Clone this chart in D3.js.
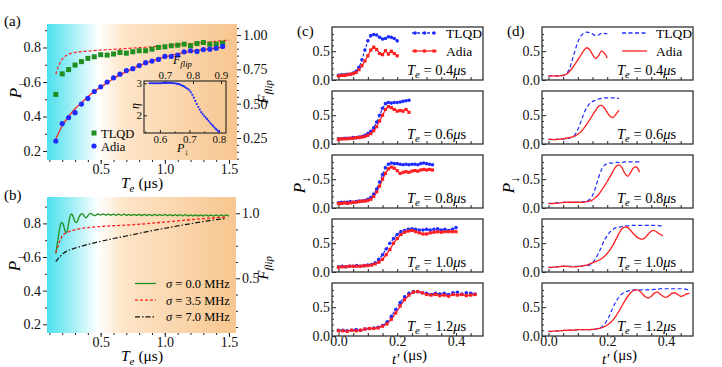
<!DOCTYPE html>
<html>
<head>
<meta charset="utf-8">
<script src="https://cdn.jsdelivr.net/npm/d3@7"></script>
<style>
body { margin: 0; background: #fff; }
svg text { font-family: "Liberation Serif", "Times New Roman", Times, serif; }
</style>
</head>
<body>
<script>
// ---------- panel (a) ----------
var teA = [0.15,0.2,0.25,0.3,0.35,0.4,0.45,0.5,0.55,0.6,0.65,0.7,0.75,0.8,0.85,0.9,0.95,1.0,1.05,1.1,1.15,1.2,1.25,1.3,1.35,1.4,1.45];
var tlqdA = [0.528,0.647,0.672,0.698,0.718,0.737,0.746,0.758,0.756,0.762,0.771,0.767,0.775,0.781,0.781,0.79,0.8,0.804,0.81,0.813,0.819,0.81,0.823,0.829,0.819,0.819,0.825];
var adiaA = [0.258,0.359,0.394,0.422,0.472,0.505,0.545,0.572,0.6,0.624,0.645,0.666,0.677,0.695,0.712,0.721,0.731,0.748,0.748,0.756,0.775,0.781,0.777,0.788,0.79,0.796,0.806];
var fitTlqdT = [0.15,0.17,0.19,0.21,0.23,0.25,0.28,0.31,0.35,0.4,0.5,0.6,0.7,0.8,0.9,1.0,1.1,1.2,1.3,1.4,1.5];
var fitTlqdP = [0.645,0.69,0.72,0.742,0.753,0.761,0.768,0.772,0.776,0.779,0.785,0.789,0.794,0.799,0.804,0.81,0.816,0.822,0.829,0.836,0.843];
var fitAdiaT = [0.15,0.2,0.25,0.3,0.35,0.4,0.45,0.5,0.6,0.7,0.8,0.9,1.0,1.1,1.2,1.3,1.4,1.45];
var fitAdiaP = [0.27,0.345,0.4,0.445,0.48,0.515,0.545,0.57,0.62,0.66,0.695,0.722,0.745,0.763,0.777,0.788,0.797,0.8];
// inset: eta vs P, P from 0.565 in steps of 0.005
var etaStart = 0.565, etaStep = 0.005;
var etaV = [3.0,3.0,3.0,3.0,3.0,3.0,3.0,3.0,3.0,3.01,3.01,3.01,3.01,3.01,3.01,3.01,3.0,3.0,2.99,2.98,2.97,2.95,2.93,2.91,2.88,2.85,2.82,2.78,2.72,2.64,2.55,2.45,2.35,2.26,2.18,2.1,2.04,1.98,1.93,1.88,1.83,1.77,1.72,1.67,1.62,1.57,1.53,1.49];

// ---------- panel (b) ----------
var sig0HeadStart = 0.15, sig0HeadStep = 0.01;
var sig0Head = [0.62,0.67,0.72,0.77,0.8,0.805,0.79,0.76,0.745,0.76,0.8,0.84,0.855,0.85,0.83,0.81,0.805,0.815,0.835,0.85,0.856,0.855,0.845,0.835,0.835,0.845,0.855,0.86,0.857,0.85,0.846,0.848];
var sig0TailStart = 0.48, sig0TailStep = 0.02;
var sig0Tail = [0.856,0.849,0.856,0.849,0.855,0.849,0.855,0.848,0.855,0.848,
  0.855,0.848,0.854,0.848,0.854,0.848,0.854,0.847,0.854,0.847,
  0.853,0.847,0.853,0.847,0.853,0.846,0.853,0.846,0.852,0.846,
  0.852,0.846,0.852,0.845,0.852,0.845,0.851,0.845,0.851,0.845,
  0.851,0.844,0.851,0.844,0.85,0.844,0.85,0.844,0.85,0.843,0.85,0.843];
var sig35T = [0.15,0.17,0.19,0.21,0.23,0.25,0.27,0.3,0.35,0.4,0.5,0.6,0.7,0.8,0.9,1.0,1.1,1.2,1.3,1.4,1.48];
var sig35P = [0.625,0.67,0.71,0.735,0.743,0.75,0.755,0.762,0.77,0.775,0.781,0.786,0.79,0.795,0.801,0.808,0.815,0.822,0.828,0.834,0.838];
var sig7T = [0.15,0.18,0.21,0.25,0.31,0.4,0.5,0.6,0.7,0.8,0.9,1.0,1.1,1.2,1.3,1.4,1.48];
var sig7P = [0.572,0.6,0.622,0.64,0.655,0.675,0.693,0.71,0.725,0.741,0.757,0.771,0.785,0.798,0.811,0.822,0.83];
var sigNames = ["0.0","3.5","7.0"];

// ---------- panel (c): measured, t' from 0 with a fixed step ----------
var teLabels = ["0.4","0.6","0.8","1.0","1.2"];
var cSteps = [0.01,0.01,0.01,0.0125,0.015];
var tlqdC04 = [0.08,0.09,0.09,0.1,0.1,0.12,0.15,0.22,0.35,0.52,0.68,0.77,0.79,0.78,0.74,0.71,0.72,0.75,0.74,0.72,0.68];
var adiaC04 = [0.07,0.08,0.08,0.09,0.1,0.11,0.13,0.18,0.25,0.33,0.42,0.52,0.57,0.53,0.46,0.44,0.51,0.45,0.5,0.46,0.42];
var tlqdC06 = [0.09,0.09,0.1,0.1,0.1,0.11,0.11,0.12,0.13,0.15,0.18,0.22,0.28,0.38,0.5,0.62,0.7,0.72,0.71,0.72,0.72,0.73,0.74,0.75,0.76];
var adiaC06 = [0.08,0.09,0.09,0.09,0.1,0.1,0.11,0.11,0.12,0.13,0.15,0.18,0.23,0.3,0.4,0.5,0.6,0.65,0.63,0.6,0.57,0.58,0.57,0.6,0.55];
var tlqdC08 = [0.09,0.1,0.1,0.1,0.11,0.1,0.11,0.12,0.12,0.13,0.15,0.18,0.24,0.33,0.45,0.58,0.7,0.76,0.78,0.77,0.77,0.76,0.75,0.76,0.75,0.76,0.76,0.75,0.77,0.78,0.77,0.76,0.75];
var adiaC08 = [0.08,0.08,0.09,0.08,0.09,0.1,0.1,0.11,0.12,0.12,0.13,0.15,0.2,0.28,0.38,0.5,0.6,0.68,0.71,0.69,0.65,0.6,0.62,0.63,0.62,0.64,0.65,0.64,0.66,0.67,0.66,0.67,0.66];
var tlqdC10 = [0.09,0.1,0.09,0.1,0.1,0.11,0.1,0.11,0.12,0.13,0.16,0.22,0.3,0.4,0.5,0.58,0.65,0.7,0.72,0.74,0.75,0.74,0.73,0.73,0.74,0.73,0.74,0.75,0.73,0.74,0.72,0.74,0.77];
var adiaC10 = [0.08,0.09,0.09,0.1,0.1,0.1,0.1,0.11,0.11,0.12,0.14,0.17,0.22,0.3,0.39,0.5,0.58,0.65,0.69,0.71,0.72,0.7,0.68,0.66,0.66,0.68,0.69,0.7,0.69,0.7,0.7,0.7,0.7];
var tlqdC12 = [0.1,0.1,0.09,0.1,0.11,0.1,0.12,0.13,0.14,0.15,0.18,0.24,0.34,0.46,0.58,0.68,0.74,0.77,0.77,0.75,0.74,0.72,0.74,0.73,0.74,0.72,0.75,0.76,0.73,0.75,0.74,0.73];
var adiaC12 = [0.09,0.09,0.08,0.1,0.09,0.1,0.12,0.13,0.13,0.14,0.17,0.21,0.29,0.4,0.52,0.63,0.71,0.76,0.77,0.75,0.72,0.71,0.72,0.7,0.71,0.69,0.72,0.71,0.72,0.7,0.71,0.72];

// ---------- panel (d): simulated, t' step 0.01 ----------
var dStep = 0.01;
var tlqdD04 = [0.07,0.07,0.07,0.07,0.075,0.08,0.1,0.18,0.33,0.5,0.66,0.76,0.81,0.83,0.82,0.8,0.77,0.78,0.81,0.81,0.8];
var adiaD04 = [0.07,0.07,0.07,0.07,0.075,0.08,0.1,0.14,0.2,0.27,0.35,0.43,0.51,0.56,0.53,0.44,0.37,0.42,0.5,0.47,0.38];
var tlqdD06 = [0.08,0.08,0.08,0.08,0.08,0.085,0.09,0.1,0.12,0.16,0.25,0.38,0.52,0.63,0.7,0.74,0.76,0.78,0.79,0.8,0.8,0.8,0.8,0.8,0.79];
var adiaD06 = [0.08,0.08,0.075,0.08,0.085,0.09,0.1,0.11,0.12,0.14,0.17,0.21,0.27,0.34,0.42,0.5,0.58,0.65,0.67,0.63,0.55,0.48,0.46,0.52,0.59];
var tlqdD08 = [0.08,0.08,0.09,0.09,0.09,0.1,0.1,0.1,0.1,0.1,0.1,0.1,0.11,0.12,0.15,0.22,0.35,0.52,0.66,0.74,0.77,0.78,0.78,0.79,0.79,0.79,0.8,0.8,0.8,0.8,0.8,0.8];
var adiaD08 = [0.08,0.075,0.08,0.085,0.09,0.095,0.1,0.1,0.1,0.1,0.1,0.1,0.1,0.11,0.12,0.14,0.18,0.23,0.3,0.38,0.46,0.55,0.64,0.72,0.75,0.7,0.6,0.55,0.62,0.7,0.71,0.62];
var tlqdD10 = [0.08,0.08,0.085,0.09,0.095,0.1,0.1,0.1,0.1,0.1,0.1,0.1,0.11,0.11,0.12,0.16,0.23,0.32,0.43,0.55,0.63,0.7,0.74,0.77,0.78,0.79,0.8,0.8,0.81,0.81,0.81,0.81,0.81,0.81,0.81,0.81,0.81,0.81,0.8,0.8];
var adiaD10 = [0.08,0.08,0.085,0.09,0.095,0.1,0.1,0.095,0.09,0.09,0.095,0.1,0.11,0.12,0.14,0.16,0.18,0.2,0.23,0.27,0.32,0.39,0.47,0.57,0.67,0.75,0.78,0.77,0.72,0.66,0.61,0.58,0.57,0.6,0.66,0.71,0.72,0.69,0.65,0.63];
var tlqdD12 = [0.08,0.08,0.085,0.09,0.09,0.095,0.1,0.1,0.1,0.105,0.11,0.11,0.11,0.11,0.11,0.115,0.12,0.13,0.15,0.2,0.28,0.38,0.5,0.6,0.68,0.73,0.76,0.78,0.79,0.8,0.8,0.8,0.8,0.8,0.8,0.8,0.81,0.81,0.82,0.82,0.82,0.82,0.82,0.82,0.82,0.82,0.82,0.81,0.8];
var adiaD12 = [0.08,0.08,0.085,0.09,0.09,0.095,0.1,0.1,0.1,0.105,0.11,0.11,0.11,0.11,0.11,0.115,0.12,0.13,0.14,0.16,0.19,0.23,0.28,0.35,0.43,0.52,0.61,0.69,0.75,0.79,0.8,0.78,0.73,0.68,0.66,0.69,0.74,0.76,0.73,0.69,0.67,0.7,0.74,0.75,0.72,0.69,0.7,0.73,0.74];

var serif = '"Liberation Serif","Times New Roman",Times,serif';
var BLUE = "#1f2bff", RED = "#ff1f1f", GREEN = "#1f8f1f";

var svg = d3.select("body").append("svg")
    .attr("width", 722).attr("height", 367);

// background gradient cyan -> white -> peach
var grad = svg.append("defs").append("linearGradient")
    .attr("id", "bg").attr("x1", "0").attr("x2", "1").attr("y1", "0").attr("y2", "0");
[[0, "#4ce0ee"], [0.1, "#8aebf3"], [0.27, "#ffffff"], [0.4, "#fde5c9"], [1, "#f7c68f"]].forEach(function(s) {
  grad.append("stop").attr("offset", s[0]).attr("stop-color", s[1]);
});

function styleAxis(g, size) {
  g.attr("font-family", serif).attr("font-size", size);
  g.select(".domain").remove();
  g.selectAll("line").attr("stroke", "#222");
  g.selectAll("text").attr("fill", "#111");
  return g;
}
function pairs(xs, ys) { return xs.map(function(v, i) { return [v, ys[i]]; }); }
function stepped(start, step, ys) { return ys.map(function(v, i) { return [start + i * step, v]; }); }

// axis label with subscript
function subLabel(sel, main, sub, rest, size) {
  sel.append("tspan").attr("font-style", "italic").text(main);
  sel.append("tspan").attr("font-size", size * 0.72).attr("dy", size * 0.28).attr("font-style", sub == "↓" ? "normal" : "italic").text(sub);
  if (rest) sel.append("tspan").attr("dy", -size * 0.28).text(rest);
}

// ===== panel (a) =====
var A = {l: 47, r: 237, t: 24, b: 160};
var xA = d3.scaleLinear().domain([0.0815, 1.562]).range([A.l, A.r]);
var yA = d3.scaleLinear().domain([0.148, 0.936]).range([A.b, A.t]);
var yA2 = d3.scaleLinear().domain([0.09, 1.08]).range([A.b, A.t]);

svg.append("rect").attr("x", A.l).attr("y", A.t).attr("width", A.r - A.l).attr("height", A.b - A.t).attr("fill", "url(#bg)");

styleAxis(svg.append("g").attr("transform", "translate(0," + A.b + ")")
  .call(d3.axisBottom(xA).tickValues([0.5, 1.0, 1.5]).tickSize(4).tickPadding(0).tickFormat(d3.format(".1f"))), 14);
styleAxis(svg.append("g").attr("transform", "translate(0," + A.b + ")")
  .call(d3.axisBottom(xA).tickValues(d3.range(0.1, 1.56, 0.1)).tickSize(2).tickFormat("")), 14);
styleAxis(svg.append("g").attr("transform", "translate(" + A.l + ",0)")
  .call(d3.axisLeft(yA).tickValues([0.2, 0.4, 0.6, 0.8]).tickSize(4).tickPadding(2).tickFormat(d3.format(".1f"))), 14);
styleAxis(svg.append("g").attr("transform", "translate(" + A.l + ",0)")
  .call(d3.axisLeft(yA).tickValues([0.3, 0.5, 0.7, 0.9]).tickSize(2).tickFormat("")), 14);
styleAxis(svg.append("g").attr("transform", "translate(" + A.r + ",0)")
  .call(d3.axisRight(yA2).tickValues([0.25, 0.5, 0.75, 1.0]).tickSize(4).tickPadding(2).tickFormat(d3.format(".2f"))), 14);
styleAxis(svg.append("g").attr("transform", "translate(" + A.r + ",0)")
  .call(d3.axisRight(yA2).tickValues([0.1, 0.15, 0.2, 0.3, 0.35, 0.4, 0.45, 0.55, 0.6, 0.65, 0.7, 0.8, 0.85, 0.9, 0.95, 1.05]).tickSize(2).tickFormat("")), 14);

// fitted curves
svg.append("path").datum(pairs(fitTlqdT, fitTlqdP))
  .attr("d", d3.line().x(function(d) { return xA(d[0]); }).y(function(d) { return yA(d[1]); }).curve(d3.curveCatmullRom))
  .attr("fill", "none").attr("stroke", RED).attr("stroke-width", 1.2).attr("stroke-dasharray", "3,2");
svg.append("path").datum(pairs(fitAdiaT, fitAdiaP))
  .attr("d", d3.line().x(function(d) { return xA(d[0]); }).y(function(d) { return yA(d[1]); }).curve(d3.curveCatmullRom))
  .attr("fill", "none").attr("stroke", RED).attr("stroke-width", 1.3);

svg.selectAll(".sqA").data(pairs(teA, tlqdA)).enter().append("rect")
  .attr("x", function(d) { return xA(d[0]) - 2.5; }).attr("y", function(d) { return yA(d[1]) - 2.5; })
  .attr("width", 5).attr("height", 5).attr("fill", GREEN);
svg.selectAll(".dotA").data(pairs(teA, adiaA)).enter().append("circle")
  .attr("cx", function(d) { return xA(d[0]); }).attr("cy", function(d) { return yA(d[1]); })
  .attr("r", 2.6).attr("fill", BLUE);

// legend (a)
svg.append("rect").attr("x", 91.5).attr("y", 130.5).attr("width", 5).attr("height", 5).attr("fill", GREEN);
svg.append("circle").attr("cx", 94).attr("cy", 146).attr("r", 2.6).attr("fill", BLUE);
svg.append("text").attr("x", 101).attr("y", 137.5).attr("font-size", 12.5).text("TLQD");
svg.append("text").attr("x", 101).attr("y", 151).attr("font-size", 12.5).text("Adia");

// inset
var I = {l: 144, r: 226, t: 81, b: 133};
var xI = d3.scaleLinear().domain([0.546, 0.824]).range([I.l, I.r]);
var xI2 = d3.scaleLinear().domain([0.625, 0.918]).range([I.l, I.r]);
var yI = d3.scaleLinear().domain([1.45, 3.07]).range([I.b, I.t]);
svg.append("rect").attr("x", I.l).attr("y", I.t).attr("width", I.r - I.l).attr("height", I.b - I.t)
  .attr("fill", "none").attr("stroke", "#222").attr("stroke-width", 1.1);
styleAxis(svg.append("g").attr("transform", "translate(0," + I.b + ")")
  .call(d3.axisBottom(xI).tickValues([0.6, 0.7, 0.8]).tickSize(-3).tickPadding(2).tickFormat(d3.format(".1f"))), 11);
styleAxis(svg.append("g").attr("transform", "translate(0," + I.b + ")")
  .call(d3.axisBottom(xI).tickValues([0.55, 0.65, 0.75]).tickSize(-1.5).tickFormat("")), 11);
styleAxis(svg.append("g").attr("transform", "translate(0," + I.t + ")")
  .call(d3.axisTop(xI2).tickValues([0.7, 0.8, 0.9]).tickSize(-3).tickPadding(2).tickFormat(d3.format(".1f"))), 11);
styleAxis(svg.append("g").attr("transform", "translate(" + I.l + ",0)")
  .call(d3.axisLeft(yI).tickValues([2, 3]).tickSize(-3).tickPadding(2).tickFormat(d3.format("d"))), 11);
svg.selectAll(".eta").data(stepped(etaStart, etaStep, etaV)).enter().append("circle")
  .attr("cx", function(d) { return xI(d[0]); }).attr("cy", function(d) { return yI(d[1]); })
  .attr("r", 1.1).attr("fill", BLUE);
svg.append("text").attr("transform", "translate(139,106) rotate(-90)").attr("text-anchor", "middle")
  .attr("font-size", 12).attr("font-style", "italic").text("η");
subLabel(svg.append("text").attr("x", 173).attr("y", 64).attr("font-size", 12), "F", "flip", null, 12);
subLabel(svg.append("text").attr("x", 177).attr("y", 152).attr("font-size", 12), "P", "↓", null, 12);

// labels (a)
svg.append("text").attr("x", 4).attr("y", 26).attr("font-size", 15).text("(a)");
subLabel(svg.append("text").attr("x", 142).attr("y", 188).attr("text-anchor", "middle").attr("font-size", 15.5), "T", "e", " (μs)", 15.5);
subLabel(svg.append("text").attr("transform", "translate(21,90) rotate(-90)").attr("text-anchor", "middle").attr("font-size", 17), "P", "↓", null, 17);
subLabel(svg.append("text").attr("transform", "translate(268,92) rotate(-90)").attr("text-anchor", "middle").attr("font-size", 15), "F", "flip", null, 15);

// ===== panel (b) =====
var B = {l: 47, r: 236, t: 197, b: 333};
var xB = d3.scaleLinear().domain([0.0815, 1.555]).range([B.l, B.r]);
var yB = d3.scaleLinear().domain([0.148, 0.957]).range([B.b, B.t]);
var yB2 = d3.scaleLinear().domain([0.079, 1.125]).range([B.b, B.t]);

svg.append("rect").attr("x", B.l).attr("y", B.t).attr("width", B.r - B.l).attr("height", B.b - B.t).attr("fill", "url(#bg)");
styleAxis(svg.append("g").attr("transform", "translate(0," + B.b + ")")
  .call(d3.axisBottom(xB).tickValues([0.5, 1.0, 1.5]).tickSize(4).tickPadding(0).tickFormat(d3.format(".1f"))), 14);
styleAxis(svg.append("g").attr("transform", "translate(0," + B.b + ")")
  .call(d3.axisBottom(xB).tickValues(d3.range(0.1, 1.56, 0.1)).tickSize(2).tickFormat("")), 14);
styleAxis(svg.append("g").attr("transform", "translate(" + B.l + ",0)")
  .call(d3.axisLeft(yB).tickValues([0.2, 0.4, 0.6, 0.8]).tickSize(4).tickPadding(2).tickFormat(d3.format(".1f"))), 14);
styleAxis(svg.append("g").attr("transform", "translate(" + B.l + ",0)")
  .call(d3.axisLeft(yB).tickValues([0.3, 0.5, 0.7, 0.9]).tickSize(2).tickFormat("")), 14);
styleAxis(svg.append("g").attr("transform", "translate(" + B.r + ",0)")
  .call(d3.axisRight(yB2).tickValues([0.5, 1.0]).tickSize(4).tickPadding(2).tickFormat(d3.format(".1f"))), 14);
styleAxis(svg.append("g").attr("transform", "translate(" + B.r + ",0)")
  .call(d3.axisRight(yB2).tickValues([0.125, 0.25, 0.375, 0.625, 0.75, 0.875]).tickSize(2).tickFormat("")), 14);

var lineB = d3.line().x(function(d) { return xB(d[0]); }).y(function(d) { return yB(d[1]); }).curve(d3.curveCatmullRom);
svg.append("path").datum(stepped(sig0HeadStart, sig0HeadStep, sig0Head).concat(stepped(sig0TailStart, sig0TailStep, sig0Tail)))
  .attr("d", lineB).attr("fill", "none").attr("stroke", GREEN).attr("stroke-width", 1.3);
svg.append("path").datum(pairs(sig35T, sig35P))
  .attr("d", lineB).attr("fill", "none").attr("stroke", RED).attr("stroke-width", 1.3).attr("stroke-dasharray", "3,2");
svg.append("path").datum(pairs(sig7T, sig7P))
  .attr("d", lineB).attr("fill", "none").attr("stroke", "#111").attr("stroke-width", 1.2).attr("stroke-dasharray", "5,2,1.5,2");

// legend (b)
var legB = [[GREEN, null], [RED, "3,2"], ["#111", "5,2,1.5,2"]];
legB.forEach(function(s, i) {
  var yy = 283.5 + i * 16.7;
  svg.append("line").attr("x1", 135).attr("x2", 156).attr("y1", yy).attr("y2", yy)
    .attr("stroke", s[0]).attr("stroke-width", 1.3).attr("stroke-dasharray", s[1]);
  var t = svg.append("text").attr("x", 166).attr("y", yy + 4.5).attr("font-size", 12.5);
  t.append("tspan").attr("font-style", "italic").text("σ");
  t.append("tspan").text(" = " + sigNames[i] + " MHz");
});

svg.append("text").attr("x", 4).attr("y", 200).attr("font-size", 15).text("(b)");
subLabel(svg.append("text").attr("x", 142).attr("y", 361).attr("text-anchor", "middle").attr("font-size", 15.5), "T", "e", " (μs)", 15.5);
subLabel(svg.append("text").attr("transform", "translate(20,263) rotate(-90)").attr("text-anchor", "middle").attr("font-size", 17), "P", "↓", null, 17);
subLabel(svg.append("text").attr("transform", "translate(268,268) rotate(-90)").attr("text-anchor", "middle").attr("font-size", 15), "F", "flip", null, 15);

// ===== panels (c) and (d): five stacked sub-plots each =====
var subTops = [27, 91, 155, 219, 283], subH = 53;
var tDomain = [-0.022, 0.492], pDomain = [0, 0.92];

function drawStack(left, right, tl, ad, steps, measured, pLabelX) {
  var x = d3.scaleLinear().domain(tDomain).range([left, right]);
  subTops.forEach(function(top, i) {
    var y = d3.scaleLinear().domain(pDomain).range([top + subH, top]);
    var last = i == subTops.length - 1;
    styleAxis(svg.append("g").attr("transform", "translate(0," + (top + subH) + ")")
      .call(d3.axisBottom(x).tickValues(d3.range(0, 0.46, 0.05)).tickSize(-3).tickPadding(0)
        .tickFormat(function(v) { return last && Math.abs(v * 10 - Math.round(v * 10)) < 1e-6 && Math.round(v * 10) % 2 == 0 ? d3.format(".1f")(v) : ""; })), 14);
    styleAxis(svg.append("g").attr("transform", "translate(" + left + ",0)")
      .call(d3.axisLeft(y).tickValues([0, 0.5]).tickSize(-4).tickPadding(2).tickFormat(d3.format(".1f"))), 14);
    styleAxis(svg.append("g").attr("transform", "translate(" + left + ",0)")
      .call(d3.axisLeft(y).tickValues([0.1, 0.2, 0.3, 0.4, 0.6, 0.7, 0.8]).tickSize(-2).tickFormat("")), 14);
    svg.append("rect").attr("x", left).attr("y", top).attr("width", right - left).attr("height", subH)
      .attr("fill", "none").attr("stroke", "#333").attr("stroke-width", 1.3);

    var line = d3.line().x(function(d) { return x(d[0]); }).y(function(d) { return y(d[1]); });
    if (!measured) line.curve(d3.curveCatmullRom);
    var tlData = stepped(0, steps[i], tl[i]), adData = stepped(0, steps[i], ad[i]);
    svg.append("path").datum(tlData).attr("d", line).attr("fill", "none")
      .attr("stroke", BLUE).attr("stroke-width", 1.2).attr("stroke-dasharray", measured ? "3,2" : "4,2.5");
    svg.append("path").datum(adData).attr("d", line).attr("fill", "none")
      .attr("stroke", RED).attr("stroke-width", 1.3);
    if (measured) {
      svg.append("g").selectAll("circle").data(tlData).enter().append("circle")
        .attr("cx", function(d) { return x(d[0]); }).attr("cy", function(d) { return y(d[1]); })
        .attr("r", 1.8).attr("fill", BLUE);
      svg.append("g").selectAll("rect").data(adData).enter().append("rect")
        .attr("x", function(d) { return x(d[0]) - 1.6; }).attr("y", function(d) { return y(d[1]) - 1.6; })
        .attr("width", 3.2).attr("height", 3.2).attr("fill", RED);
    }
    var lab = svg.append("text").attr("x", right - 76).attr("y", top + subH - 5).attr("font-size", 14.5);
    lab.append("tspan").attr("font-style", "italic").text("T");
    lab.append("tspan").attr("font-style", "italic").attr("font-size", 10.5).attr("dy", 3).text("e");
    lab.append("tspan").attr("dy", -3).text(" = " + teLabels[i]);
    lab.append("tspan").attr("font-style", "italic").text("μ");
    lab.append("tspan").text("s");
  });

  // legend in top sub-plot
  var lx = right - 71;
  [[BLUE, measured ? "3,2" : "4,2.5", "TLQD", 33], [RED, null, "Adia", 51]].forEach(function(s, k) {
    svg.append("line").attr("x1", lx).attr("x2", lx + 25).attr("y1", s[3]).attr("y2", s[3])
      .attr("stroke", s[0]).attr("stroke-width", 1.3).attr("stroke-dasharray", s[1]);
    if (measured) {
      [lx + 3, lx + 12.5, lx + 22].forEach(function(px) {
        if (k == 0) svg.append("circle").attr("cx", px).attr("cy", s[3]).attr("r", 1.8).attr("fill", BLUE);
        else svg.append("rect").attr("x", px - 1.6).attr("y", s[3] - 1.6).attr("width", 3.2).attr("height", 3.2).attr("fill", RED);
      });
    }
    svg.append("text").attr("x", lx + 34).attr("y", s[3] + 4.5).attr("font-size", 13.5).text(s[2]);
  });

  subLabel(svg.append("text").attr("x", (left + right) / 2 + 2).attr("y", 364).attr("text-anchor", "middle").attr("font-size", 15), "t′", "", " (μs)", 15);
  subLabel(svg.append("text").attr("transform", "translate(" + pLabelX + ",185) rotate(-90)").attr("text-anchor", "middle").attr("font-size", 17), "P", "↓", null, 17);
}

drawStack(332, 483, [tlqdC04, tlqdC06, tlqdC08, tlqdC10, tlqdC12], [adiaC04, adiaC06, adiaC08, adiaC10, adiaC12], cSteps, true, 305);
drawStack(542, 693, [tlqdD04, tlqdD06, tlqdD08, tlqdD10, tlqdD12], [adiaD04, adiaD06, adiaD08, adiaD10, adiaD12], [dStep, dStep, dStep, dStep, dStep], false, 514);

svg.append("text").attr("x", 297).attr("y", 36).attr("font-size", 15).text("(c)");
svg.append("text").attr("x", 507).attr("y", 36).attr("font-size", 15).text("(d)");
</script>
</body>
</html>
